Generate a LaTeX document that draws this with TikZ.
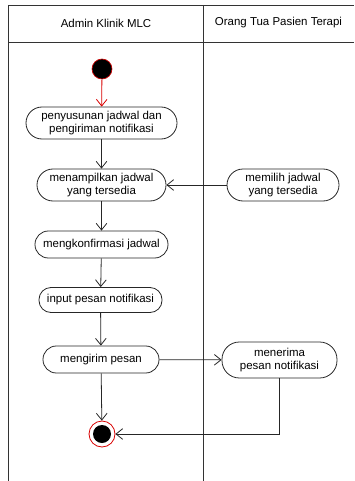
\documentclass[tikz,border=0pt]{standalone}
\usepackage{fontspec}
\setmainfont{Liberation Sans}
\usetikzlibrary{arrows.meta}
\begin{document}
\begin{tikzpicture}[x=0.75pt,y=-0.75pt,
  act/.style={draw=black!85, line width=0.6pt, rounded corners=#1, align=center, inner sep=0pt,
    font=\fontsize{8.6}{9.8}\selectfont},
  act/.default=13pt,
  flow/.style={draw=black!85, line width=0.6pt, -{Straight Barb[length=5pt,width=8pt]}},
  lane/.style={draw=black!80, line width=0.6pt},
  hdr/.style={font=\fontsize{8.6}{9.8}\selectfont}]
\useasboundingbox (0,0) rectangle (354,481);
% swimlanes
\draw[lane] (8,5) -- (354,5);
\draw[lane] (8,42) -- (354,42);
\draw[lane] (8,5) -- (8,481);
\draw[lane] (203,5) -- (203,481);
\node[hdr] (h1) at (106,23) {Admin Klinik MLC};
\node[hdr] (h2) at (278.5,23) {Orang Tua Pasien Terapi};
% start
\node[circle, fill=black, draw=red!80!black, line width=0.5pt, minimum size=20*0.75pt, inner sep=0pt] (start) at (102,69) {};
% activities
\node[act, minimum width=151*0.75pt, minimum height=32*0.75pt, rounded corners=12pt] (n1) at (101.5,123) {penyusunan jadwal dan\\pengiriman notifikasi};
\node[act, minimum width=129*0.75pt, minimum height=32*0.75pt, rounded corners=12pt] (n2) at (101.5,185) {menampilkan jadwal\\yang tersedia};
\node[act, minimum width=112*0.75pt, minimum height=32*0.75pt, rounded corners=12pt] (n3) at (283,185) {memilih jadwal\\yang tersedia};
\node[act, minimum width=133*0.75pt, minimum height=27*0.75pt, rounded corners=10pt] (n4) at (101.5,244.5) {mengkonfirmasi jadwal};
\node[act, minimum width=123*0.75pt, minimum height=25*0.75pt, rounded corners=9pt] (n5) at (100.5,300) {input pesan notifikasi};
\node[act, minimum width=116*0.75pt, minimum height=27*0.75pt, rounded corners=10pt] (n6) at (101,359.5) {mengirim pesan};
\node[act, minimum width=115*0.75pt, minimum height=36*0.75pt, rounded corners=13pt] (n7) at (279.5,360) {menerima\\pesan notifikasi};
% end
\node[circle, draw=red!85!black, line width=0.6pt, fill=white, minimum size=26*0.75pt, inner sep=0pt] (end) at (102,434) {};
\node[circle, fill=black, minimum size=18*0.75pt, inner sep=0pt] (endin) at (end.center) {};
% flows
\draw[flow, draw=red!85!black] (start) -- (n1);
\draw[flow] (n1) -- (n2);
\draw[flow] (n3) -- (n2);
\draw[flow] (n2) -- (n4);
\draw[flow] (n4) -- (n5);
\draw[flow] (n5) -- (n6);
\draw[flow] (n6) -- (n7);
\draw[flow] (n6) -- (end);
\draw[flow] (n7.south) |- (end.east);
\end{tikzpicture}
\end{document}
